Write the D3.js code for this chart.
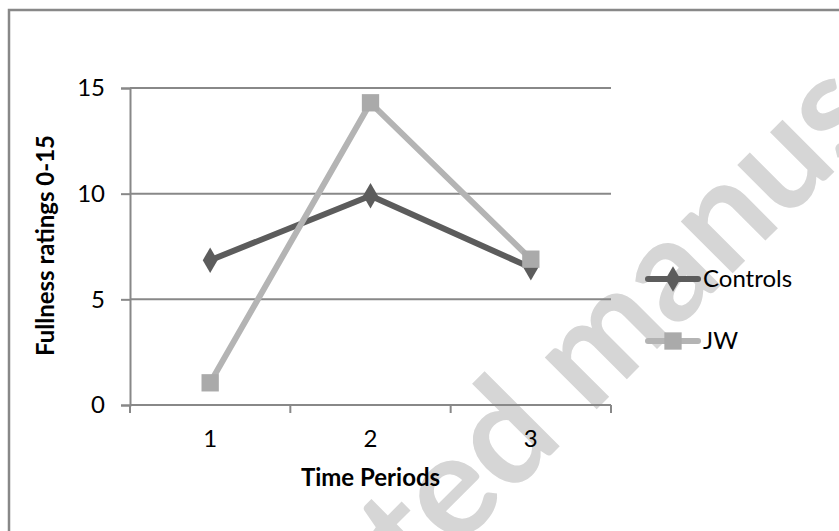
<!DOCTYPE html>
<html>
<head>
<meta charset="utf-8">
<script src="https://cdn.jsdelivr.net/npm/d3@7"></script>
<style>
  body { margin: 0; background: #fff; }
  text { font-family: Lato, "Liberation Sans", sans-serif; }
</style>
</head>
<body>
<div id="graph"></div>
<script>
// data
let periods = ["1", "2", "3"]
let controls = [6.85, 9.9, 6.5]
let jw = [1.05, 14.3, 6.9]
let yTicks = [0, 5, 10, 15]

let W = 839, H = 531
let margin = {top: 88, right: 228, bottom: 126, left: 130},
  width = W - margin.left - margin.right,
  height = H - margin.top - margin.bottom;

let svg = d3.select("#graph")
  .append("svg")
  .attr("width", W)
  .attr("height", H);

// watermark behind everything
svg.append("text")
  .attr("transform", "translate(142,864) rotate(-45)")
  .attr("font-family", "'Liberation Sans', Arial, sans-serif")
  .attr("font-weight", "bold")
  .attr("font-size", 143)
  .attr("fill", "#d6d6d6")
  .text("Accepted manuscript");

// chart frame (only top and left visible)
svg.append("path")
  .attr("d", `M9,${H} V10 H${W}`)
  .attr("fill", "none")
  .attr("stroke", "#888")
  .attr("stroke-width", 2.5);

let g = svg.append("g")
  .attr("transform", `translate(${margin.left},${margin.top})`);

let x = d3.scalePoint()
  .domain(periods)
  .range([0, width])
  .padding(0.5);

let y = d3.scaleLinear()
  .domain([0, 15])
  .range([height, 0]);

// gridlines
g.append("g")
  .selectAll("line")
  .data(yTicks.filter(d => d > 0))
  .join("line")
    .attr("x1", 0)
    .attr("x2", width)
    .attr("y1", d => y(d))
    .attr("y2", d => y(d))
    .attr("stroke", "#888")
    .attr("stroke-width", 2);

// y axis
let yAxis = g.append("g")
  .call(d3.axisLeft(y).tickValues(yTicks).tickSize(9).tickPadding(16));
yAxis.select(".domain").attr("stroke", "#888").attr("stroke-width", 2);
yAxis.selectAll(".tick line").attr("stroke", "#888").attr("stroke-width", 2);
yAxis.selectAll(".tick text")
  .attr("font-size", 24)
  .attr("font-family", "Lato, sans-serif")
  .attr("fill", "#000");

// x axis: ticks sit between categories
let step = x.step();
let xAxis = g.append("g")
  .attr("transform", `translate(0,${height})`);
xAxis.append("line")
  .attr("x1", 0).attr("x2", width)
  .attr("stroke", "#888").attr("stroke-width", 2);
xAxis.selectAll(".xt")
  .data(d3.range(periods.length + 1))
  .join("line")
    .attr("class", "xt")
    .attr("x1", i => i * step)
    .attr("x2", i => i * step)
    .attr("y1", 0)
    .attr("y2", 8)
    .attr("stroke", "#888")
    .attr("stroke-width", 2);
xAxis.selectAll(".xl")
  .data(periods)
  .join("text")
    .attr("class", "xl")
    .attr("x", d => x(d))
    .attr("y", 42)
    .attr("text-anchor", "middle")
    .attr("font-size", 24)
    .text(d => d);

// axis titles
g.append("text")
  .attr("x", width / 2)
  .attr("y", height + 81)
  .attr("text-anchor", "middle")
  .attr("font-size", 24)
  .attr("font-weight", "bold")
  .text("Time Periods");

g.append("text")
  .attr("transform", `translate(${-76},${height / 2 - 1}) rotate(-90)`)
  .attr("text-anchor", "middle")
  .attr("font-size", 24)
  .attr("font-weight", "bold")
  .text("Fullness ratings 0-15");

// series
let line = d3.line()
  .x((d, i) => x(periods[i]))
  .y(d => y(d));

let series = [
  {name: "Controls", values: controls, color: "#5c5c5c", marker: d3.symbolDiamond, mcolor: "#5c5c5c", msize: 190},
  {name: "JW", values: jw, color: "#b4b4b4", marker: d3.symbolSquare, mcolor: "#aaaaaa", msize: 300}
];

series.forEach(s => {
  g.append("path")
    .datum(s.values)
    .attr("d", line)
    .attr("fill", "none")
    .attr("stroke", s.color)
    .attr("stroke-width", 6)
    .attr("stroke-linejoin", "round");
});
series.forEach(s => {
  g.append("g")
    .selectAll("path")
    .data(s.values)
    .join("path")
      .attr("transform", (d, i) => `translate(${x(periods[i])},${y(d)})`)
      .attr("d", d3.symbol().type(s.marker).size(s.msize))
      .attr("fill", s.mcolor);
});

// legend
let legend = svg.append("g");
series.forEach((s, i) => {
  let ly = 279 + i * 62;
  legend.append("line")
    .attr("x1", 648).attr("x2", 698)
    .attr("y1", ly).attr("y2", ly)
    .attr("stroke", s.color)
    .attr("stroke-width", 6)
    .attr("stroke-linecap", "round");
  legend.append("path")
    .attr("transform", `translate(673,${ly})`)
    .attr("d", d3.symbol().type(s.marker).size(s.msize))
    .attr("fill", s.mcolor);
  legend.append("text")
    .attr("x", 703)
    .attr("y", ly + 8)
    .attr("font-size", 24)
    .text(s.name);
});
</script>
</body>
</html>
